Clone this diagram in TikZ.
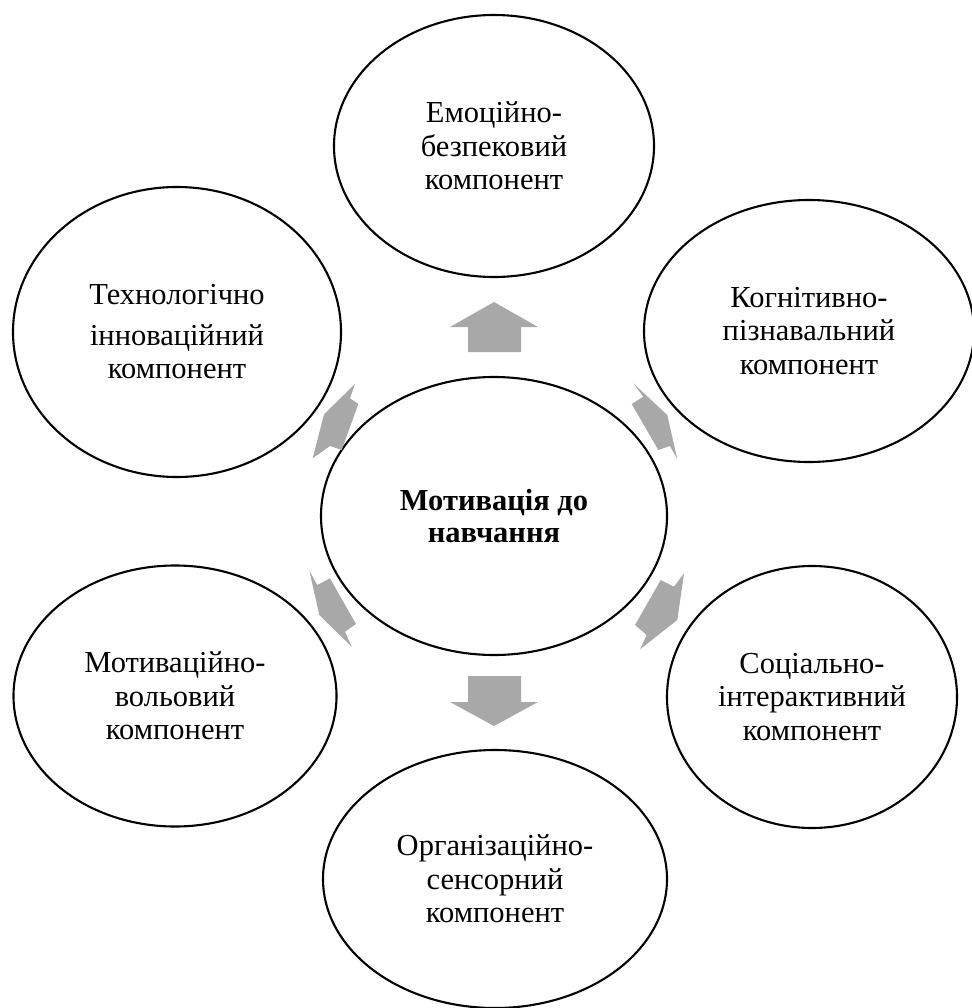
\documentclass[tikz,border=0pt]{standalone}
\usepackage{fontspec}
\setmainfont{Liberation Serif}
\usetikzlibrary{shapes.geometric}
\definecolor{arrowgray}{RGB}{168,168,168}
\begin{document}
\begin{tikzpicture}[x=1pt,y=-1pt,
  comp/.style={ellipse, draw=black, line width=2.1pt, inner sep=0pt, align=center,
    font=\fontsize{30.5}{33.5}\selectfont},
  blockarrow/.style={fill=arrowgray, draw=none}]
\useasboundingbox (0,0) rectangle (971,1008);
% ellipses
\node[comp, minimum width=346pt, minimum height=278pt,
  font=\fontsize{30.5}{32}\selectfont\bfseries] (center) at (494,516) {Мотивація до\\навчання};
\node[comp, minimum width=320pt, minimum height=262pt] (top) at (494,146) {Емоційно-\\безпековий\\компонент};
\node[comp, minimum width=330pt, minimum height=262pt] (tr) at (809,331) {Когнітивно-\\пізнавальний\\компонент};
\node[comp, minimum width=290pt, minimum height=262pt] (br) at (812,697) {Соціально-\\інтерактивний\\компонент};
\node[comp, minimum width=344pt, minimum height=258pt] (bot) at (495,879) {Організаційно-\\сенсорний\\компонент};
\node[comp, minimum width=323pt, minimum height=261pt] (bl) at (175,696) {Мотиваційно-\\вольовий\\компонент};
\node[comp, minimum width=328pt, minimum height=290pt] (tl) at (177,332) {Технологічно\\[7pt]інноваційний\\компонент};
% block arrows
\fill[blockarrow] (468,352) -- (468,327) -- (450,327) -- (494,302) -- (538,327) -- (521,327) -- (521,352) -- cycle;
\fill[blockarrow] (468,676) -- (521,676) -- (521,702) -- (538,702) -- (494,726) -- (450,702) -- (468,702) -- cycle;
\fill[blockarrow] (631.7,404) -- (643.3,396.7) -- (633.3,383.3) -- (667.3,415) -- (677.3,459.3) -- (670,446) -- (658.3,450) -- cycle;
\fill[blockarrow] (660.7,580) -- (674,586.7) -- (684,573.3) -- (677.3,620) -- (640,649.3) -- (646.7,635) -- (635,625) -- cycle;
\fill[blockarrow] (330,578.3) -- (317.3,585) -- (309.3,570.7) -- (319.3,615) -- (351.7,646.7) -- (345,631.7) -- (356,624) -- cycle;
\fill[blockarrow] (355,384) -- (350,398.3) -- (358.3,404) -- (341.7,450) -- (330,446) -- (312.7,458.3) -- (324,414.3) -- cycle;
\end{tikzpicture}
\end{document}
